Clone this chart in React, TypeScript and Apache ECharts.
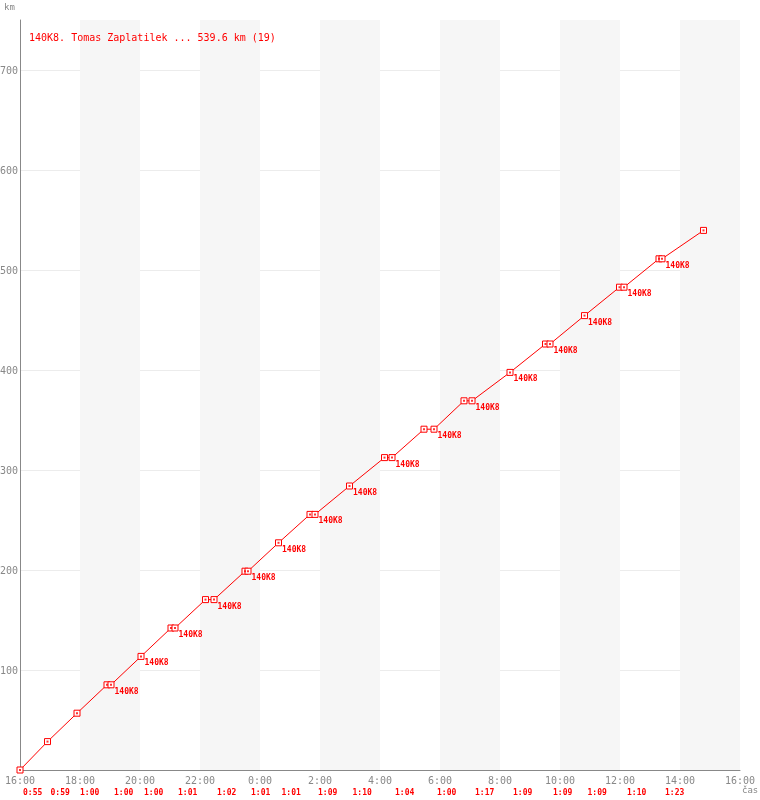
import React, { useEffect, useRef } from "react";
import * as echarts from "echarts";

// Arrival / departure times at the pit (clock time, start 16:00)
const pointTimes = [
  "16:00", "16:55", "17:54", "18:54", "19:02", "20:02", "21:02", "21:10",
  "22:11", "22:28", "23:30", "23:36", "0:37", "1:40", "1:50", "2:59",
  "4:09", "4:24", "5:28", "5:48", "6:48", "7:04", "8:20", "9:31",
  "9:40", "10:49", "11:59", "12:08", "13:18", "13:24", "14:47",
];
// Cumulative distance (km)
const pointKm = [
  0, 28.4, 56.8, 85.2, 85.2, 113.6, 142, 142,
  170.4, 170.4, 198.8, 198.8, 227.2, 255.6, 255.6, 284,
  312.4, 312.4, 340.8, 340.8, 369.2, 369.2, 397.6, 426,
  426, 454.4, 482.8, 482.8, 511.2, 511.2, 539.6,
];
// Point labels (driver code)
const pointLabels = [
  "", "", "", "", "140K8", "140K8", "", "140K8",
  "", "140K8", "", "140K8", "140K8", "", "140K8", "140K8",
  "", "140K8", "", "140K8", "", "140K8", "140K8", "",
  "140K8", "140K8", "", "140K8", "", "140K8", "",
];
// Lap start times and lap durations
const lapStarts = [
  "16:00", "16:55", "17:54", "19:02", "20:02", "21:10", "22:28", "23:36",
  "0:37", "1:50", "2:59", "4:24", "5:48", "7:04", "8:20", "9:40",
  "10:49", "12:08", "13:24",
];
const lapTimes = [
  "0:55", "0:59", "1:00", "1:00", "1:00", "1:01", "1:02", "1:01",
  "1:01", "1:09", "1:10", "1:04", "1:00", "1:17", "1:09", "1:09",
  "1:09", "1:10", "1:23",
];
const titleText = "140K8. Tomas Zaplatilek ... 539.6 km (19)";
const startHour = 16;

const toHours = (t: string) => {
  const [h, m] = t.split(":").map(Number);
  return (h + m / 60 - startHour + 24) % 24;
};

const MONO = '"DejaVu Sans Mono", monospace';
const RED = "#ff0000";
const GRAY = "#888888";

export default function App() {
  const ref = useRef<HTMLDivElement>(null);
  useEffect(() => {
    if (!ref.current) return;
    const chart = echarts.init(ref.current, undefined, { renderer: "svg" });
    const lineData = pointTimes.map((t, i) => {
      const item: any = { value: [toHours(t), pointKm[i]] };
      if (pointLabels[i]) {
        item.label = {
          show: true,
          formatter: pointLabels[i],
          position: [7, 10],
          align: "left",
          verticalAlign: "middle",
          color: RED,
          fontFamily: MONO,
          fontWeight: "bold",
          fontSize: 8,
        };
      }
      return item;
    });
    const dotData = pointTimes.map((t, i) => [toHours(t), pointKm[i]]);
    const lapData = lapStarts.map((t) => [toHours(t), 0]);

    chart.setOption({
      animation: false,
      title: {
        text: titleText,
        left: 29,
        top: 32,
        padding: 0,
        textStyle: {
          color: RED,
          fontFamily: MONO,
          fontSize: 10,
          fontWeight: "normal",
        },
      },
      graphic: [
        {
          type: "text",
          left: 4,
          top: 2,
          style: { text: "km", fill: GRAY, font: `9px ${MONO}` },
        },
        {
          type: "text",
          left: 742,
          top: 785,
          style: { text: "čas", fill: GRAY, font: `9px ${MONO}` },
        },
      ],
      grid: {
        left: 20,
        right: 20,
        top: 20,
        bottom: 30,
        containLabel: false,
        outerBoundsMode: "none",
      },
      xAxis: {
        type: "value",
        min: 0,
        max: 24,
        interval: 2,
        axisLine: { show: true, lineStyle: { color: GRAY, width: 1 } },
        axisTick: { show: false },
        splitLine: { show: false },
        splitArea: {
          show: true,
          areaStyle: { color: ["rgba(255,255,255,0)", "#f6f6f6"] },
        },
        axisLabel: {
          color: GRAY,
          fontFamily: MONO,
          fontSize: 10,
          margin: 5,
          hideOverlap: false,
          formatter: (v: number) => `${(startHour + v) % 24}:00`,
        },
      },
      yAxis: {
        type: "value",
        min: 0,
        max: 750,
        interval: 100,
        axisLine: { show: true, lineStyle: { color: GRAY, width: 1 } },
        axisTick: { show: false },
        splitLine: {
          show: true,
          lineStyle: {
            color: [
              "rgba(0,0,0,0)", "#ececec", "#ececec", "#ececec", "#ececec",
              "#ececec", "#ececec", "#ececec", "rgba(0,0,0,0)",
            ],
          },
        },
        axisLabel: {
          color: GRAY,
          fontFamily: MONO,
          fontSize: 10,
          margin: 2,
          formatter: (v: number) => (v === 0 || v > 700 ? "" : String(v)),
        },
      },
      series: [
        {
          type: "line",
          data: lineData,
          symbol: "rect",
          symbolSize: 6,
          showAllSymbol: true,
          lineStyle: { color: RED, width: 1 },
          itemStyle: { color: "#ffffff", borderColor: RED, borderWidth: 1 },
          emphasis: { disabled: true },
          z: 3,
        },
        {
          type: "scatter",
          data: dotData,
          symbol: "rect",
          symbolSize: 2,
          itemStyle: { color: RED },
          silent: true,
          z: 4,
        },
        {
          type: "custom",
          data: lapData,
          silent: true,
          clip: false,
          renderItem: (params: any, api: any) => {
            const p = api.coord([api.value(0), 0]);
            return {
              type: "text",
              x: p[0] + 3,
              y: p[1] + 22,
              style: {
                text: lapTimes[params.dataIndex],
                fill: RED,
                font: `bold 8px ${MONO}`,
                verticalAlign: "middle",
                align: "left",
              },
            };
          },
        },
      ],
    });
    return () => chart.dispose();
  }, []);
  return (
    <div
      ref={ref}
      style={{ position: "fixed", left: 0, top: 0, width: 760, height: 800 }}
    />
  );
}
